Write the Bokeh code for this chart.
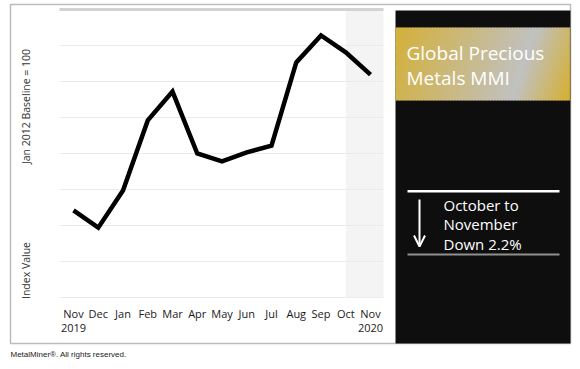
import math
from bokeh.plotting import figure
from bokeh.models import BoxAnnotation, Label, Arrow, OpenHead, Range1d
from bokeh.core.properties import value
from bokeh.embed import file_html
from bokeh.resources import INLINE

# ---- data ----
months = ["Nov", "Dec", "Jan", "Feb", "Mar", "Apr", "May", "Jun", "Jul", "Aug", "Sep", "Oct", "Nov"]
years = {0: "2019", 12: "2020"}
index_values = [84.2, 79.4, 89.7, 109.2, 117.2, 100.0, 97.8, 100.3, 102.2, 125.3, 132.8, 128.1, 121.9]
grid_values = [60, 70, 80, 90, 100, 110, 120, 130]
title_lines = ["Global Precious", "Metals MMI"]
change_lines = ["October to", "November", "Down 2.2%"]

x = list(range(len(months)))
tick_labels = [m + ("\n" + years[i] if i in years else "") for i, m in zip(x, months)]

# ---- layout (page pixels) ----
W, H = 580, 368
CL, CT, CR, CB = 59, 9, 383, 297          # chart area box
X_LO, X_HI = -0.566, 12.525               # chart data extents
Y_LO, Y_HI = 60, 140

xs_per_px = (X_HI - X_LO) / (CR - CL)
ys_per_px = (Y_HI - Y_LO) / (CB - CT)
chart_x = Range1d(X_LO - CL * xs_per_px, X_HI + (W - CR) * xs_per_px)
chart_y = Range1d(Y_LO - (H - CB) * ys_per_px, Y_HI + CT * ys_per_px)

p = figure(width=W, height=H, output_backend="svg", toolbar_location=None,
           x_range=Range1d(0, W), y_range=Range1d(H, 0),
           min_border=0, min_border_left=0, min_border_right=0, min_border_top=0, min_border_bottom=0)
p.extra_x_ranges = {"c": chart_x}
p.extra_y_ranges = {"c": chart_y}
p.axis.visible = False
p.grid.visible = False
p.outline_line_color = None
p.background_fill_color = "white"
p.border_fill_color = "white"

# shaded latest period
p.quad(left=[11], right=[X_HI], bottom=[Y_LO], top=[Y_HI], x_range_name="c", y_range_name="c",
       fill_color="#f4f4f4", line_color=None)
# gridlines
p.segment(x0=[X_LO] * len(grid_values), x1=[X_HI] * len(grid_values), y0=grid_values, y1=grid_values,
          x_range_name="c", y_range_name="c", line_color="#ebebeb", line_width=1)
p.segment(x0=[X_LO], x1=[X_HI], y0=[Y_HI], y1=[Y_HI], x_range_name="c", y_range_name="c",
          line_color="#d2d2d2", line_width=3)

# series
p.line(x, index_values, x_range_name="c", y_range_name="c", line_color="black", line_width=4.5,
       line_join="miter")

# tick labels
p.text(x=x, y=[Y_LO - 8 * ys_per_px] * len(x), text=tick_labels, x_range_name="c", y_range_name="c",
       text_align="center", text_baseline="top", text_font=value("Open Sans"), text_font_size="11px",
       text_color="#1a1a1a", text_line_height=0.95)

# axis titles
for txt, cy in [("Jan 2012 Baseline = 100", 106), ("Index Value", 270)]:
    p.add_layout(Label(x=25, y=cy, text=txt, angle=math.pi / 2, text_align="center", text_baseline="middle",
                       text_font="Open Sans", text_font_size="10.5px", text_color="#333333"))

# black panel
p.quad(left=[395], right=[570], top=[10], bottom=[343], fill_color="#0e0e0e", line_color=None)

# gradient band (gold -> silver -> gold, diagonal)
bx0, bx1, by0, by1 = 395, 570, 27, 100
k = 0.34
def tval(px, py):
    return px + k * (py - by0)

def clip(poly, sign, c):
    out = []
    n = len(poly)
    for i in range(n):
        a = poly[i]
        b = poly[(i + 1) % n]
        fa = sign * (tval(*a) - c)
        fb = sign * (tval(*b) - c)
        if fa >= 0:
            out.append(a)
        if (fa >= 0) != (fb >= 0):
            r = fa / (fa - fb)
            out.append((a[0] + r * (b[0] - a[0]), a[1] + r * (b[1] - a[1])))
    return out

stops = [(395, (212, 176, 56)), (537, (193, 193, 193)), (594, (214, 176, 48))]
def color_at(t):
    for (t0, c0), (t1, c1) in zip(stops[:-1], stops[1:]):
        if t <= t1:
            r = max(0.0, min(1.0, (t - t0) / (t1 - t0)))
            return "#%02x%02x%02x" % tuple(int(round(c0[j] + r * (c1[j] - c0[j]))) for j in range(3))
    return "#%02x%02x%02x" % stops[-1][1]

rect = [(bx0, by0), (bx1, by0), (bx1, by1), (bx0, by1)]
N = 70
tmin, tmax = tval(bx0, by0), tval(bx1, by1)
step = (tmax - tmin) / N
gxs, gys, gcols = [], [], []
for i in range(N):
    t0 = tmin + i * step
    t1 = t0 + step
    poly = clip(clip(rect, 1, t0 - 0.4), -1, t1 + 0.4)
    if len(poly) < 3:
        continue
    gxs.append([a for a, b in poly])
    gys.append([b for a, b in poly])
    gcols.append(color_at((t0 + t1) / 2))
p.patches(gxs, gys, fill_color=gcols, line_color=None)

# outer border
p.add_layout(BoxAnnotation(left=10, right=570, top=4, bottom=343, fill_alpha=0,
                           line_color="#222222", line_width=1.5))

# title
for i, t in enumerate(title_lines):
    p.add_layout(Label(x=406, y=52 + 25 * i, text=t, text_align="left", text_baseline="middle",
                       text_font="Open Sans", text_font_size="19px", text_color="white"))

# rules in panel
p.quad(left=[407], right=[559], top=[189.5], bottom=[192], fill_color="white", line_color=None)
p.quad(left=[407], right=[559], top=[253], bottom=[255], fill_color="#8f8f8f", line_color=None)

# down arrow
p.add_layout(Arrow(x_start=419, y_start=199, x_end=419, y_end=246, line_color="white", line_width=2,
                   end=OpenHead(size=11, line_color="white", line_width=2)))

for i, t in enumerate(change_lines):
    p.add_layout(Label(x=443, y=204 + 19.5 * i, text=t, text_align="left", text_baseline="middle",
                       text_font="Open Sans", text_font_size="15px", text_color="white"))

# footer
p.add_layout(Label(x=10, y=354, text="MetalMiner\u00ae. All rights reserved.", text_align="left",
                   text_baseline="middle", text_font="Liberation Sans", text_font_size="8px",
                   text_color="#222222"))

open("out.html", "w").write(file_html(p, INLINE))
